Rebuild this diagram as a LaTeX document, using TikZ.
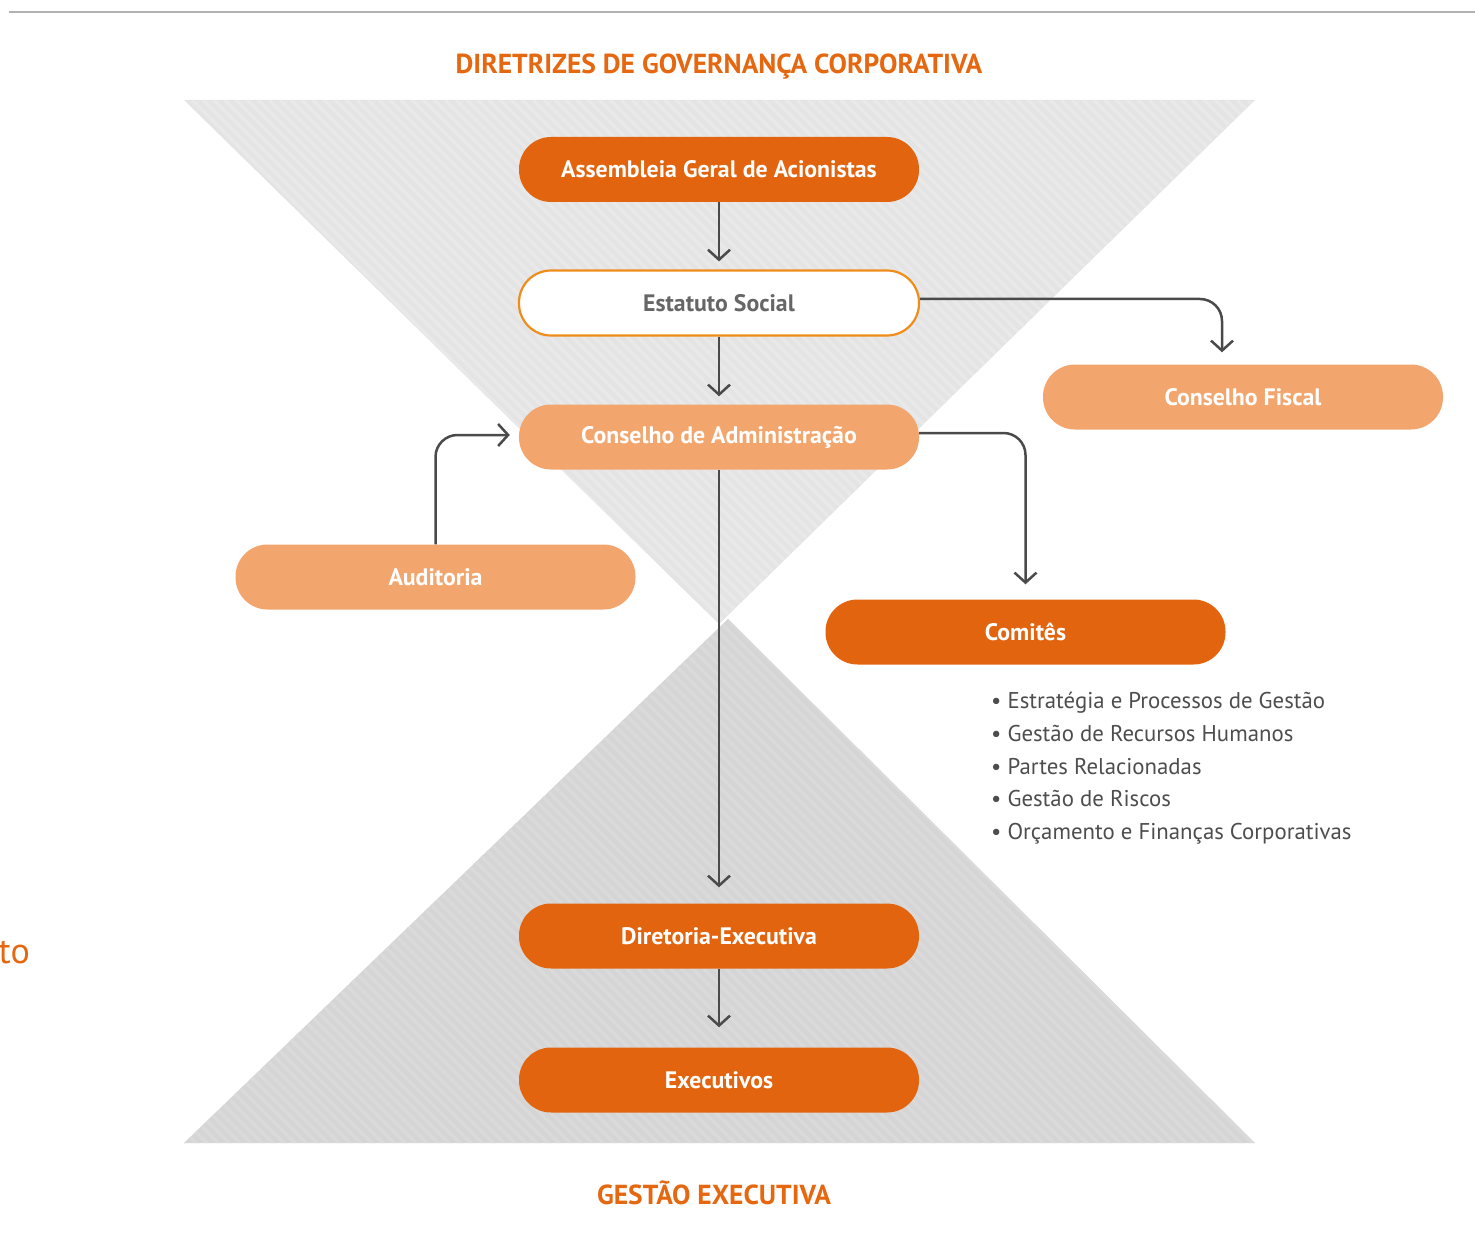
\documentclass[tikz,border=0pt]{standalone}
\usepackage{fontspec}
\setmainfont{PT Sans}
\usetikzlibrary{arrows.meta}
\definecolor{dorange}{HTML}{E3640F}
\definecolor{lorange}{HTML}{F2A66E}
\definecolor{borange}{HTML}{EF8C1A}
\definecolor{torange}{HTML}{E5670F}
\definecolor{arrgray}{HTML}{4A4A4A}
\definecolor{txtgray}{HTML}{4D4D4D}
\definecolor{estgray}{HTML}{666666}
\definecolor{upfill}{HTML}{E4E4E4}
\definecolor{upstripe}{HTML}{E9E9E9}
\definecolor{lowfill}{HTML}{D5D5D5}
\definecolor{lowstripe}{HTML}{DADADA}
\tikzset{
  box/.style={rectangle, rounded corners=32pt, minimum width=400pt, minimum height=65pt, inner sep=0pt,
    font=\fontsize{23.8}{28}\selectfont\bfseries, text=white},
  darkbox/.style={box, fill=dorange},
  lightbox/.style={box, fill=lorange},
  whitebox/.style={box, fill=white, draw=borange, line width=2.2pt, text=estgray},
  arr/.style={draw=arrgray, line width=2.5pt, -{Straight Barb[length=10pt,width=22pt,line width=2.5pt]}, rounded corners=22pt},
  title/.style={font=\fontsize{27.5}{32}\selectfont\bfseries, text=torange},
  listtxt/.style={font=\fontsize{22.8}{32.7}\selectfont, text=txtgray, align=left, anchor=north west, inner sep=0pt}
}
\begin{document}
\begin{tikzpicture}[x=1pt,y=-1pt]
\useasboundingbox (0,0) rectangle (1475,1233);
% top rule
\draw[color=black!30, line width=2pt] (9,12) -- (1475,12);
% upper triangle
\fill[upfill] (184,100) -- (1255,100) -- (719,624) -- cycle;
\begin{scope}
\clip (184,100) -- (1255,100) -- (719,624) -- cycle;
\foreach \k in {-600,-589,...,1300}{
  \draw[upstripe, line width=3.5pt] (\k,100) -- ++(600,600);
}
\end{scope}
% lower triangle
\fill[lowfill] (184,1143) -- (1255,1143) -- (728,619) -- cycle;
\begin{scope}
\clip (184,1143) -- (1255,1143) -- (728,619) -- cycle;
\foreach \k in {-600,-589,...,1300}{
  \draw[lowstripe, line width=3.5pt] (\k,600) -- ++(600,600);
}
\end{scope}
% titles
\node[title] (t1) at (719,67) {DIRETRIZES DE GOVERNANÇA CORPORATIVA};
\node[title] (t2) at (714,1193) {GESTÃO EXECUTIVA};
\node[anchor=east, inner sep=0pt, font=\fontsize{36}{42}\selectfont, text=torange] (frag) at (30,953) {to};
% boxes
\node[darkbox] (ass) at (719,169.5) {Assembleia Geral de Acionistas};
\node[whitebox] (est) at (719,303) {Estatuto Social};
\node[lightbox] (adm) at (719,437) {Conselho de Administração};
\node[lightbox] (fis) at (1243,397) {Conselho Fiscal};
\node[lightbox] (aud) at (435.5,577) {Auditoria};
\node[darkbox] (com) at (1025.5,632) {Comitês};
\node[darkbox] (dir) at (719,936) {Diretoria-Executiva};
\node[darkbox] (exe) at (719,1080) {Executivos};
% list
\node[listtxt] (lst) at (991,692) {• Estratégia e Processos de Gestão\\• Gestão de Recursos Humanos\\• Partes Relacionadas\\• Gestão de Riscos\\• Orçamento e Finanças Corporativas};
% arrows
\draw[arr, shorten >=8pt] (ass) -- (est);
\draw[arr, shorten >=8pt] (est) -- (adm);
\draw[arr, shorten >=12pt] ([yshift=4pt]est.east) -| ([xshift=-21pt]fis.north);
\draw[arr, shorten >=15pt] ([yshift=4pt]adm.east) -| (com.north);
\draw[arr, shorten >=9pt] (aud.north) |- ([yshift=2pt]adm.west);
\draw[arr, shorten >=16pt] (adm) -- (dir);
\draw[arr, shorten >=20pt] (dir) -- (exe);
\end{tikzpicture}
\end{document}
